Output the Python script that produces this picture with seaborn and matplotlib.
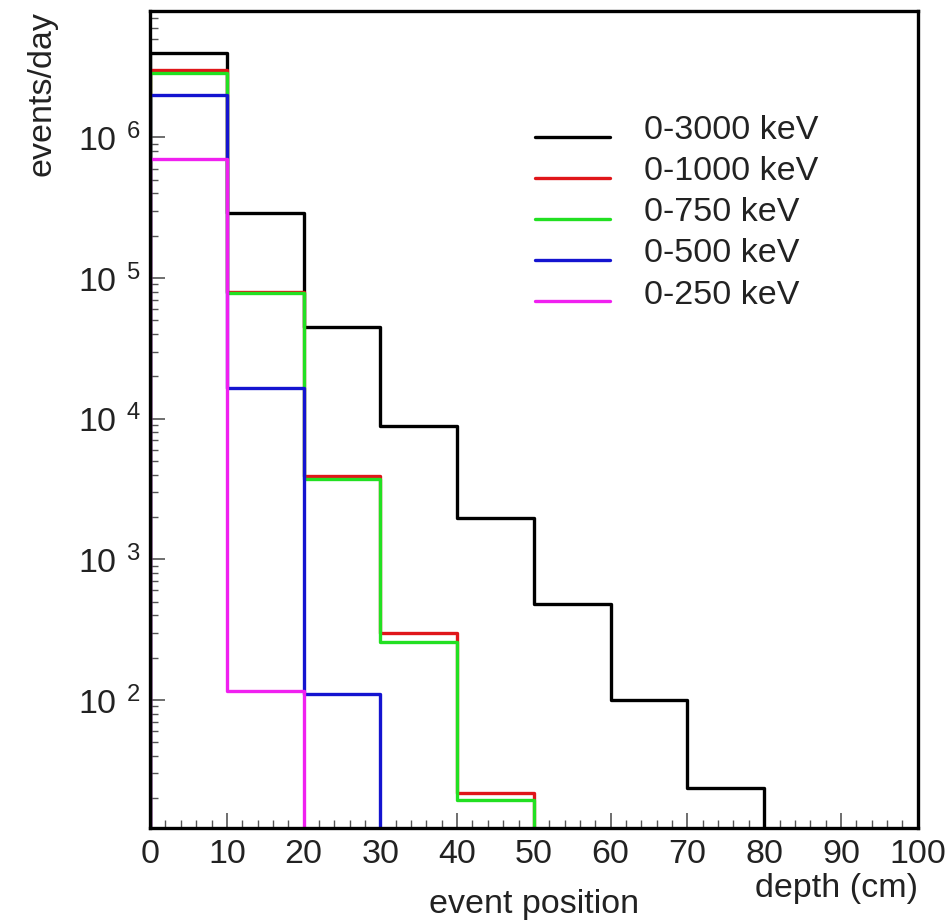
import numpy as np
import pandas as pd
import seaborn as sns
import matplotlib
matplotlib.use("Agg")
import matplotlib.pyplot as plt
from matplotlib.ticker import FixedLocator, LogLocator, MultipleLocator, NullFormatter
from matplotlib.lines import Line2D
from matplotlib.legend_handler import HandlerLine2D

# ---- data (events/day per 10 cm depth bin) ----
bin_edges = [0, 10, 20, 30, 40, 50, 60, 70, 80, 90, 100]
series_labels = ["0-3000 keV", "0-1000 keV", "0-750 keV", "0-500 keV", "0-250 keV"]
vals_3000 = [4.0e6, 2.9e5, 4.45e4, 8.9e3, 1.97e3, 482, 100, 23.7, 0, 0]
vals_1000 = [3.0e6, 8.0e4, 3.93e3, 300, 21.8, 0, 0, 0, 0, 0]
vals_750 = [2.88e6, 7.8e4, 3.74e3, 259, 19.4, 0, 0, 0, 0, 0]
vals_500 = [1.99e6, 1.64e4, 110, 0, 0, 0, 0, 0, 0, 0]
vals_250 = [6.97e5, 116, 0, 0, 0, 0, 0, 0, 0, 0]
series_colors = ["#000000", "#e0161a", "#22e022", "#1414d0", "#f020f0"]

all_vals = [vals_3000, vals_1000, vals_750, vals_500, vals_250]
floor = 1.0  # below visible range, represents empty bins

rows = []
for lab, vals in zip(series_labels, all_vals):
    xs = [bin_edges[0]] + bin_edges[:-1] + [bin_edges[-1]]
    ys = [floor] + [v if v > 0 else floor for v in vals] + [vals[-1] if vals[-1] > 0 else floor]
    for x, y in zip(xs, ys):
        rows.append({"x": x, "y": y, "series": lab})
df = pd.DataFrame(rows)

sns.set_theme(style="white")
plt.rcParams["font.family"] = ["Liberation Sans", "DejaVu Sans"]
plt.rcParams["mathtext.fontset"] = "custom"
plt.rcParams["mathtext.rm"] = "Liberation Sans"
plt.rcParams["mathtext.it"] = "Liberation Sans"
plt.rcParams["mathtext.default"] = "regular"

FS = 24.5
TXT = "#222222"

fig = plt.figure(figsize=(9.5, 9.22), dpi=100)
ax = fig.add_axes([0.158, 0.102, 0.808, 0.886])

sns.lineplot(data=df, x="x", y="y", hue="series", hue_order=series_labels,
             palette=dict(zip(series_labels, series_colors)),
             estimator=None, sort=False, drawstyle="steps-post",
             linewidth=2.4, ax=ax, legend=False)

ax.set_yscale("log")
ax.set_xlim(0, 100)
ax.set_ylim(12.3, 7.9e6)

# ticks
ax.xaxis.set_major_locator(MultipleLocator(10))
ax.xaxis.set_minor_locator(MultipleLocator(2))
ax.yaxis.set_major_locator(FixedLocator([1e2, 1e3, 1e4, 1e5, 1e6]))
ax.yaxis.set_minor_locator(LogLocator(base=10, subs=np.arange(2, 10)))
ax.yaxis.set_minor_formatter(NullFormatter())
ax.set_yticklabels([r"10$^{\ \,%d}$" % e for e in [2, 3, 4, 5, 6]])
ax.tick_params(axis="both", which="both", direction="in", top=False, right=False,
               bottom=True, left=True, colors="#555555", labelcolor=TXT)
ax.tick_params(axis="both", which="major", length=11, width=1.2, labelsize=FS)
ax.tick_params(axis="both", which="minor", length=5.5, width=1.0)
ax.tick_params(axis="x", which="major", pad=8)
ax.tick_params(axis="y", which="major", pad=7)

for sp in ax.spines.values():
    sp.set_linewidth(2.4)
    sp.set_color("#000000")

ax.set_xlabel("depth (cm)", fontsize=FS, loc="right", labelpad=2, color=TXT)
ax.set_ylabel("events/day", fontsize=FS, loc="top", color=TXT)
ax.yaxis.set_label_coords(-0.12, 1.0)
ax.text(0.5, -0.094, "event position", transform=ax.transAxes, ha="center", va="center",
        fontsize=FS, color=TXT)


class ShiftedLine(HandlerLine2D):
    def create_artists(self, legend, orig_handle, xdescent, ydescent, width, height,
                       fontsize, trans):
        arts = super().create_artists(legend, orig_handle, xdescent, ydescent, width,
                                      height, fontsize, trans)
        for a in arts:
            a.set_ydata(np.asarray(a.get_ydata()) - 7)
        return arts


handles = [Line2D([0], [0], color=c, lw=2.4) for c in series_colors]
ax.legend(handles, series_labels, loc="upper left", bbox_to_anchor=(0.501, 0.873),
          frameon=False, fontsize=FS, handlelength=2.2, handletextpad=1.0,
          labelspacing=0.3, borderpad=0, borderaxespad=0, labelcolor=TXT,
          handler_map={Line2D: ShiftedLine()})

fig.savefig("out.png", dpi=100)
